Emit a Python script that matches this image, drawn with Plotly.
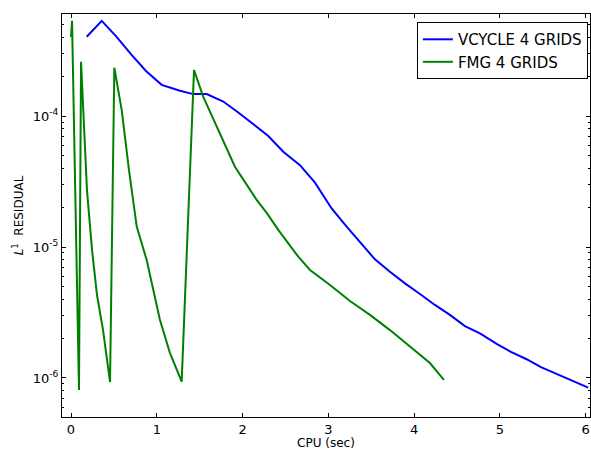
import plotly.graph_objects as go

# VCYCLE 4 GRIDS
vcycle_cpu = [0.183, 0.358, 0.524, 0.699, 0.874, 1.057, 1.270, 1.425, 1.582, 1.775,
              1.946, 2.121, 2.300, 2.474, 2.669, 2.844, 3.038, 3.213, 3.368, 3.543,
              3.718, 3.893, 4.068, 4.242, 4.417, 4.592, 4.767, 4.962, 5.128, 5.311,
              5.478, 5.661, 5.839, 6.029]
vcycle_res = [4.03e-4, 5.33e-4, 4.08e-4, 2.97e-4, 2.21e-4, 1.73e-4, 1.56e-4, 1.47e-4, 1.47e-4, 1.29e-4,
              1.07e-4, 8.69e-5, 7.04e-5, 5.34e-5, 4.22e-5, 3.10e-5, 1.97e-5, 1.43e-5, 1.10e-5, 8.05e-6,
              6.48e-6, 5.28e-6, 4.38e-6, 3.61e-6, 3.03e-6, 2.49e-6, 2.19e-6, 1.82e-6, 1.58e-6, 1.39e-6,
              1.21e-6, 1.07e-6, 9.48e-7, 8.43e-7]

# FMG 4 GRIDS
fmg_cpu = [0.0, 0.012, 0.093, 0.117, 0.186, 0.245, 0.303, 0.373, 0.455,
           0.505, 0.591, 0.676, 0.766, 0.882, 1.037, 1.154, 1.290,
           1.434, 1.542, 1.911, 2.164, 2.281, 2.416, 2.649, 2.786, 3.019,
           3.252, 3.485, 3.718, 3.951, 4.184, 4.347]
fmg_res = [4.0e-4, 5.33e-4, 8.09e-7, 2.60e-4, 2.72e-5, 9.5e-6, 4.3e-6, 2.33e-6, 9.3e-7,
           2.34e-4, 1.11e-4, 3.87e-5, 1.43e-5, 7.96e-6, 2.77e-6, 1.55e-6, 9.38e-7,
           2.24e-4, 1.40e-4, 4.10e-5, 2.29e-5, 1.82e-5, 1.35e-5, 8.43e-6, 6.67e-6, 5.13e-6,
           3.87e-6, 3.03e-6, 2.32e-6, 1.75e-6, 1.30e-6, 9.66e-7]

x_ticks = [0, 1, 2, 3, 4, 5, 6]
y_ticks = [1e-6, 1e-5, 1e-4]
y_ticktext = ["10<sup>-6</sup>", "10<sup>-5</sup>", "10<sup>-4</sup>"]
y_minor = [m * d for d in [1e-7, 1e-6, 1e-5, 1e-4] for m in range(2, 10)]

FONT = "DejaVu Sans"

fig = go.Figure()
fig.add_trace(go.Scatter(x=vcycle_cpu, y=vcycle_res, mode="lines", name="VCYCLE 4 GRIDS",
                         line=dict(color="#0000ff", width=2)))
fig.add_trace(go.Scatter(x=fmg_cpu, y=fmg_res, mode="lines", name="FMG 4 GRIDS",
                         line=dict(color="#008000", width=2)))

fig.update_layout(
    width=591, height=450,
    margin=dict(l=62, r=1, t=14, b=33),
    paper_bgcolor="white", plot_bgcolor="white",
    font=dict(family=FONT, size=12, color="black"),
    showlegend=True,
    legend=dict(x=0.996, y=0.98, xanchor="right", yanchor="top",
                bgcolor="white", bordercolor="black", borderwidth=1,
                font=dict(family=FONT, size=15), itemwidth=30, tracegroupgap=0),
    xaxis=dict(range=[-0.105, 6.05], tickvals=x_ticks, ticks="inside", ticklen=4,
               tickcolor="black", showline=True, linecolor="black", linewidth=1,
               mirror="ticks", showgrid=False, zeroline=False,
               tickfont=dict(size=13),
               title=dict(text="CPU (sec)", font=dict(size=12), standoff=3)),
    yaxis=dict(type="log", range=[-6.298, -3.221], tickvals=y_ticks, ticktext=y_ticktext,
               ticks="inside", ticklen=4, tickcolor="black",
               showline=True, linecolor="black", linewidth=1,
               mirror="ticks", showgrid=False, zeroline=False,
               tickfont=dict(size=13),
               minor=dict(tickmode="array", tickvals=y_minor, ticks="inside", ticklen=2,
                          tickcolor="black", showgrid=False),
               title=dict(text="<i>L</i><sup>1</sup>  RESIDUAL", font=dict(size=12), standoff=6)),
)

fig.write_html("out.html", config={"displayModeBar": False},
               post_script="document.body.style.margin='0';")
